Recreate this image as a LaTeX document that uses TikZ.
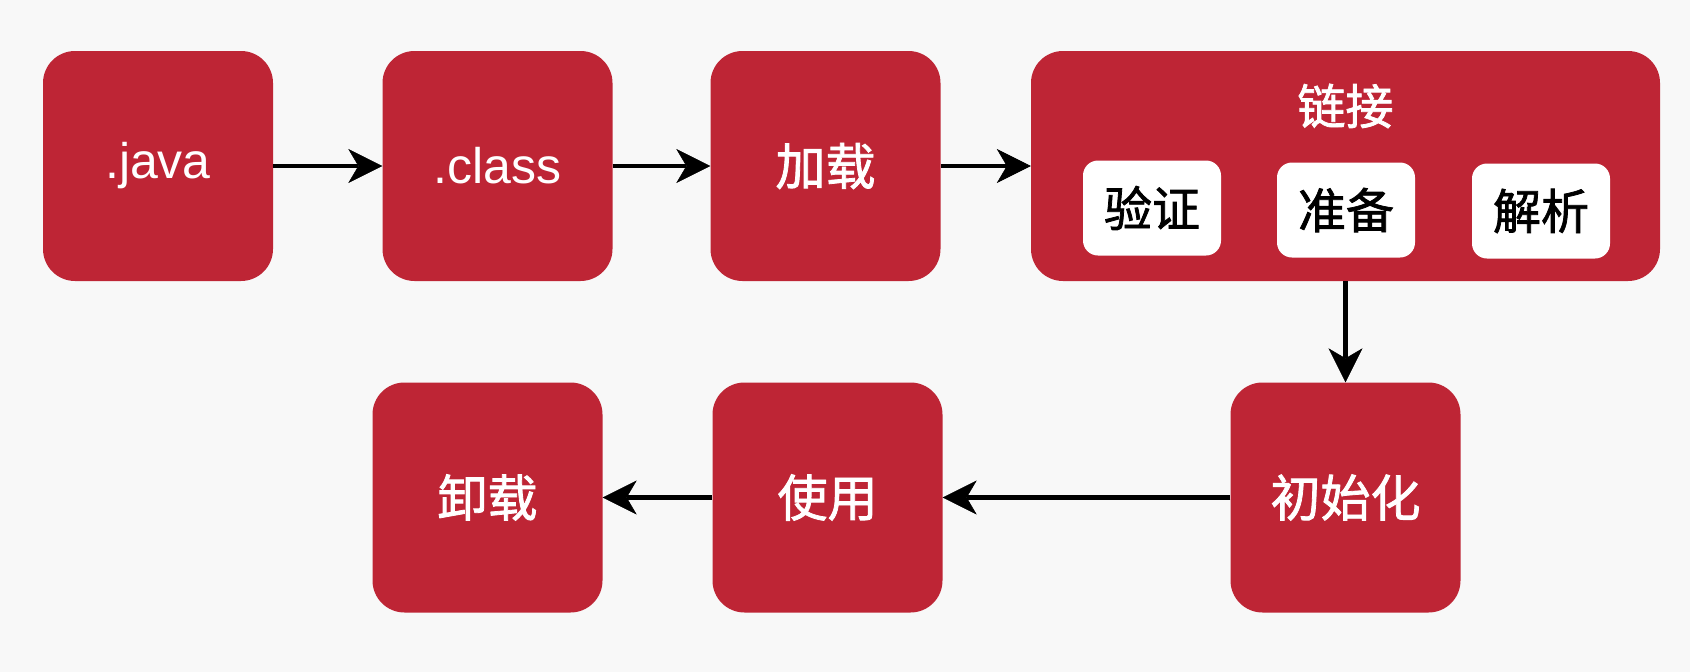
\documentclass[tikz,border=0pt]{standalone}
\usepackage{fontspec}
\setmainfont{Liberation Sans}
\newfontfamily\cjk[FakeBold=1.6]{Noto Sans CJK SC}
\usetikzlibrary{arrows.meta}
\definecolor{boxred}{HTML}{BE2535}
\definecolor{bgcol}{HTML}{F8F8F8}
\begin{document}
\begin{tikzpicture}[x=1pt,y=1pt,
  stage/.style={fill=boxred, rounded corners=32pt, minimum width=230pt, minimum height=230pt, inner sep=0pt, text=white, font=\cjk\fontsize{50}{56}\selectfont},
  latin/.style={font=\fontsize{50}{56}\selectfont},
  sub/.style={fill=white, rounded corners=15pt, minimum width=138pt, minimum height=95pt, inner sep=0pt, text=black, font=\cjk\fontsize{48}{54}\selectfont},
  flow/.style={line width=4.5pt, draw=black, -{Stealth[length=34pt,width=34pt,inset=10pt,line width=0.5pt]}}]
\fill[bgcol] (0,0) rectangle (1690,-672);
\useasboundingbox (0,0) rectangle (1690,-672);

\node[stage, latin] (java) at (158,-166) {.java};
\node[stage, latin] (class) at (497.5,-166) {.class};
\node[stage] (load) at (825.5,-166) {加载};
\node[stage, minimum width=629pt] (link) at (1345.5,-166) {};
\node[text=white, font=\cjk\fontsize{48}{54}\selectfont] (linkt) at (1345.5,-106) {链接};
\node[sub] (verify) at (1152,-208) {验证};
\node[sub] (prep) at (1346,-210) {准备};
\node[sub] (resolve) at (1541,-211) {解析};
\node[stage] (init) at (1345.5,-497.5) {初始化};
\node[stage] (use) at (827.5,-497.5) {使用};
\node[stage] (unload) at (487.5,-497.5) {卸载};

\draw[flow] (java) -- (class);
\draw[flow] (class) -- (load);
\draw[flow] (load) -- (link);
\draw[flow] (link) -- (init);
\draw[flow] (init) -- (use);
\draw[flow] (use) -- (unload);
\end{tikzpicture}
\end{document}
